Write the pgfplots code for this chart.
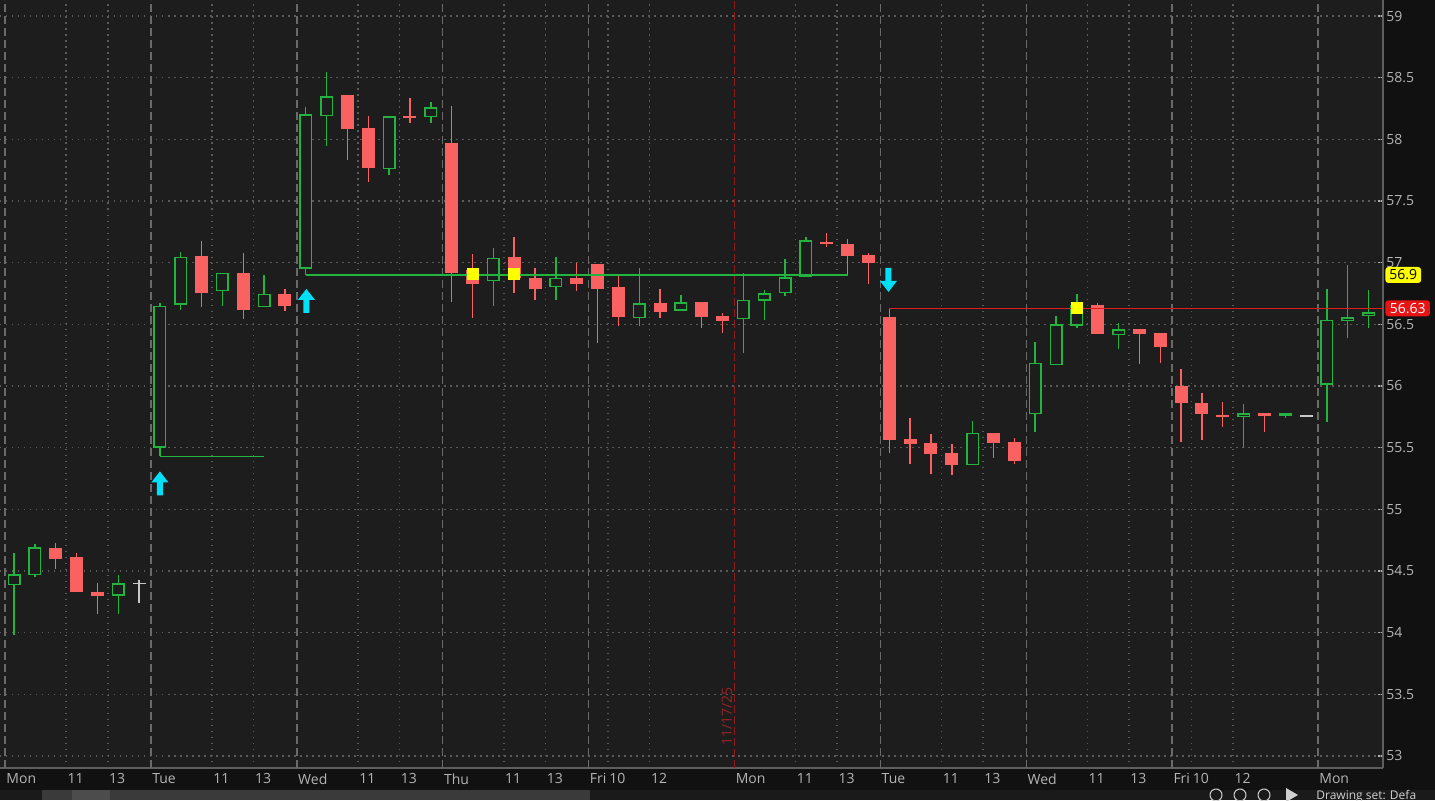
\documentclass[border=0pt]{standalone}
\usepackage{pgfplots}
\pgfplotsset{compat=1.18}
\usepackage{pgfplotstable}
\usepackage{fontspec}
\setmainfont{Open Sans}

\definecolor{bgout}{HTML}{111111}
\definecolor{bgplot}{HTML}{1D1D1D}
\definecolor{gridc}{HTML}{5A5A5A}
\definecolor{sepc}{HTML}{6A6A6A}
\definecolor{axisc}{HTML}{5E5E5E}
\definecolor{lbl}{HTML}{B4B4B4}
\definecolor{upc}{HTML}{23B43F}
\definecolor{dnc}{HTML}{FA6262}
\definecolor{flatc}{HTML}{C8C8C8}
\definecolor{lvlred}{HTML}{E01E1E}
\definecolor{tagred}{HTML}{E81414}
\definecolor{arrc}{HTML}{00E0F8}
\definecolor{yel}{HTML}{FFFF00}
\definecolor{datec}{HTML}{9A2424}
\definecolor{dateline}{HTML}{8E1C1C}
\definecolor{stripbg}{HTML}{1A1A1A}
\definecolor{stripa}{HTML}{3A3A3A}
\definecolor{stripb}{HTML}{4C4C4C}
\definecolor{toolc}{HTML}{D0D0D0}

% hourly candles, x = bar number
\pgfplotstableread{
i  o      h      l      c
0  54.385 54.645 53.98  54.475
1  54.466 54.718 54.45  54.693
5  54.30  54.47  54.15  54.40
7  55.50  56.67  55.43  56.65
8  56.66  57.09  56.62  57.05
10 56.77  56.92  56.65  56.92
12 56.64  56.90  56.64  56.75
14 56.95  58.26  56.90  58.205
15 58.19  58.55  57.95  58.35
18 57.76  58.19  57.71  58.19
20 58.18  58.30  58.13  58.26
23 56.85  57.12  56.65  57.04
26 56.80  57.05  56.70  56.88
30 56.55  56.96  56.49  56.67
32 56.61  56.74  56.61  56.68
35 56.54  56.92  56.27  56.70
36 56.69  56.78  56.54  56.75
37 56.75  57.03  56.73  56.88
38 56.88  57.21  56.88  57.18
46 55.36  55.72  55.36  55.62
49 55.77  56.36  55.63  56.19
50 56.17  56.57  56.17  56.50
51 56.49  56.75  56.47  56.66
53 56.41  56.51  56.30  56.46
59 55.75  55.85  55.50  55.78
61 55.77  55.78  55.74  55.775
63 56.01  56.79  55.71  56.54
64 56.53  56.98  56.39  56.56
65 56.57  56.78  56.47  56.60
}\up

\pgfplotstableread{
i  o      h      l      c
2  54.686 54.726 54.515 54.596
3  54.61  54.65  54.33  54.33
4  54.33  54.40  54.15  54.30
9  57.05  57.18  56.64  56.75
11 56.92  57.08  56.54  56.62
13 56.75  56.79  56.61  56.65
16 58.36  58.36  57.83  58.08
17 58.09  58.19  57.65  57.77
19 58.19  58.34  58.13  58.17
21 57.97  58.27  56.68  56.92
22 56.94  57.07  56.55  56.83
24 57.05  57.21  56.75  56.88
25 56.88  56.96  56.70  56.79
27 56.88  57.00  56.77  56.83
28 56.99  56.99  56.35  56.79
29 56.80  56.89  56.49  56.56
31 56.67  56.79  56.55  56.60
33 56.68  56.68  56.47  56.56
34 56.57  56.59  56.43  56.53
39 57.17  57.24  57.13  57.15
40 57.15  57.19  56.90  57.05
41 57.06  57.08  56.83  57.00
42 56.56  56.63  55.46  55.56
43 55.57  55.74  55.37  55.53
44 55.54  55.61  55.29  55.45
45 55.46  55.53  55.28  55.36
47 55.62  55.62  55.42  55.54
48 55.55  55.58  55.37  55.39
52 56.66  56.67  56.42  56.42
54 56.46  56.46  56.18  56.42
55 56.43  56.43  56.19  56.32
56 56.00  56.14  55.55  55.86
57 55.86  55.94  55.56  55.77
58 55.76  55.87  55.67  55.75
60 55.78  55.78  55.63  55.76
}\down

\pgfplotstableread{
i  o      h      l      c
6  54.40  54.43  54.24  54.40
62 55.756 55.756 55.756 55.756
}\flat

\pgfdeclareplotmark{uarr}{%
  \pgfpathmoveto{\pgfqpoint{0pt}{6pt}}%
  \pgfpathlineto{\pgfqpoint{4.25pt}{0.5pt}}%
  \pgfpathlineto{\pgfqpoint{1.5pt}{0.5pt}}%
  \pgfpathlineto{\pgfqpoint{1.5pt}{-6pt}}%
  \pgfpathlineto{\pgfqpoint{-1.5pt}{-6pt}}%
  \pgfpathlineto{\pgfqpoint{-1.5pt}{0.5pt}}%
  \pgfpathlineto{\pgfqpoint{-4.25pt}{0.5pt}}%
  \pgfpathclose\pgfusepathqfill}
\pgfdeclareplotmark{darr}{%
  \pgfpathmoveto{\pgfqpoint{0pt}{-6pt}}%
  \pgfpathlineto{\pgfqpoint{4.25pt}{-0.5pt}}%
  \pgfpathlineto{\pgfqpoint{1.5pt}{-0.5pt}}%
  \pgfpathlineto{\pgfqpoint{1.5pt}{6pt}}%
  \pgfpathlineto{\pgfqpoint{-1.5pt}{6pt}}%
  \pgfpathlineto{\pgfqpoint{-1.5pt}{-0.5pt}}%
  \pgfpathlineto{\pgfqpoint{-4.25pt}{-0.5pt}}%
  \pgfpathclose\pgfusepathqfill}
% a mark that draws nothing
\pgfdeclareplotmark{nada}{}

\pgfplotsset{
  wick/.style={only marks, mark=nada, forget plot,
    error bars/.cd, y dir=both, y explicit, error mark=none,
    error bar style={#1, line width=0.7pt, solid}},
  body/.style 2 args={only marks, mark=nada, forget plot,
    error bars/.cd, y dir=both, y explicit, error mark=none,
    error bar style={#1, line width=#2, solid}},
}

\begin{document}
\begin{tikzpicture}
\fill[bgout] (0,0) rectangle (717.5pt,400pt);
\path[use as bounding box] (0,0) rectangle (717.5pt,400pt);
% scroll strip at the bottom
\fill[stripbg] (0,0) rectangle (717.5pt,5pt);
\fill[stripa] (21pt,0) rectangle (295pt,5pt);
\fill[stripb] (36pt,0) rectangle (55pt,5pt);

\begin{axis}[
  at={(0pt,16pt)}, anchor=south west,
  scale only axis, width=691.5pt, height=384pt,
  xmin=-0.672, xmax=65.69, ymin=52.902, ymax=59.13,
  axis background/.style={fill=bgplot},
  axis x line*=bottom, axis y line*=right,
  every non boxed x axis/.append style={x axis line style=-},
  every non boxed y axis/.append style={y axis line style=-},
  axis line style={axisc, line width=0.8pt},
  xtick={-0.43,2.5,4.5,6.57,9.5,11.5,13.57,16.5,18.5,20.57,23.5,25.5,27.57,28.5,30.5,34.57,37.5,39.5,41.57,44.5,46.5,48.57,51.5,53.5,55.57,56.5,58.5,62.57},
  xticklabels={Mon,11,13,Tue,11,13,Wed,11,13,Thu,11,13,Fri,10,12,Mon,11,13,Tue,11,13,Wed,11,13,Fri,10,12,Mon},
  xtick style={draw=none},
  ytick={53,53.5,...,59},
  ytick style={lbl, line width=0.6pt},
  tick align=inside, major tick length=2.5pt,
  tick label style={font=\fontsize{7}{8}\selectfont, text=lbl},
  xticklabel style={anchor=north west, inner sep=0pt, xshift=0.5pt, yshift=-2.5pt},
  yticklabel style={anchor=west, inner sep=0pt, xshift=1.5pt},
  /pgf/number format/assume math mode=true,
]
% grid
\pgfplotsinvokeforeach{53,53.5,54,54.5,55,55.5,56,56.5,57,57.5,58,58.5,59}{
  \draw[gridc, line width=0.75pt, dash pattern=on 0.75pt off 2.25pt] (axis cs:-0.672,#1) -- (axis cs:65.55,#1);
}
\pgfplotsinvokeforeach{2.5,4.5,9.5,11.5,16.5,18.5,23.5,25.5,28.5,30.5,37.5,39.5,44.5,46.5,51.5,53.5,56.5,58.5}{
  \draw[gridc, line width=0.75pt, dash pattern=on 0.75pt off 2.25pt] (axis cs:#1,52.902) -- (axis cs:#1,59.13);
}
\pgfplotsinvokeforeach{-0.43,6.57,13.57,20.57,27.57,41.57,48.57,55.57,62.57}{
  \draw[sepc, line width=0.7pt, dash pattern=on 4pt off 2pt] (axis cs:#1,52.902) -- (axis cs:#1,59.13);
}
\draw[dateline, line width=0.6pt, dash pattern=on 4pt off 1.5pt] (axis cs:34.57,52.902) -- (axis cs:34.57,59.13);
\node[datec, rotate=90, font=\fontsize{7}{8}\selectfont, inner sep=0pt] at (axis cs:34.21,53.32) {11/17/25};

% wicks
\addplot[wick=upc] table[x=i, y expr={(\thisrow{h}+\thisrow{l})/2}, y error expr={(\thisrow{h}-\thisrow{l})/2}] {\up};
\addplot[wick=dnc] table[x=i, y expr={(\thisrow{h}+\thisrow{l})/2}, y error expr={(\thisrow{h}-\thisrow{l})/2}] {\down};
\addplot[wick=flatc] table[x=i, y expr={(\thisrow{h}+\thisrow{l})/2}, y error expr={(\thisrow{h}-\thisrow{l})/2}] {\flat};
% bodies
\addplot[body={dnc}{6.5pt}] table[x=i, y expr={(\thisrow{o}+\thisrow{c})/2}, y error expr={max(abs(\thisrow{o}-\thisrow{c})/2,0.008)}] {\down};
\addplot[body={flatc}{6.5pt}] table[x=i, y expr={(\thisrow{o}+\thisrow{c})/2}, y error expr={max(abs(\thisrow{o}-\thisrow{c})/2,0.007)}] {\flat};
\addplot[body={upc}{6.5pt}] table[x=i, y expr={(\thisrow{o}+\thisrow{c})/2}, y error expr={max(abs(\thisrow{o}-\thisrow{c})/2,0.012)}] {\up};
\addplot[body={bgplot}{5pt}] table[x=i, y expr={(\thisrow{o}+\thisrow{c})/2}, y error expr={max(abs(\thisrow{o}-\thisrow{c})/2-0.0122,0)}] {\up};

% levels
\addplot[upc, line width=0.7pt] coordinates {(7,55.43) (12,55.43)};
\addplot[upc, line width=0.7pt] coordinates {(14,56.9) (40,56.9)};
\addplot[lvlred, line width=0.7pt] coordinates {(42,56.63) (65.69,56.63)};

% signals
\addplot[only marks, mark=square*, mark size=2.75pt, yel] coordinates {(22,56.907) (24,56.91) (51,56.636)};
\addplot[only marks, mark=uarr, arrc] coordinates {(7,55.21) (14.03,56.69)};
\addplot[only marks, mark=darr, arrc] coordinates {(41.96,56.86)};

\coordinate (tagA) at (axis cs:65.69,56.9);
\coordinate (tagB) at (axis cs:65.69,56.63);
\end{axis}

\node[fill=yel, text=black, rounded corners=1.5pt, inner xsep=2pt, inner ysep=0pt, minimum height=8pt, anchor=west, font=\fontsize{7}{8}\selectfont] at ([xshift=1pt]tagA) {56.9};
\node[fill=tagred, text=white, rounded corners=1.5pt, inner xsep=2.2pt, inner ysep=0pt, minimum height=8pt, anchor=west, font=\fontsize{7}{8}\selectfont] at ([xshift=1pt]tagB) {56.63};

% toolbar bits
\draw[toolc, line width=0.5pt] (608pt,2.5pt) circle (3pt);
\draw[toolc, line width=0.5pt] (620pt,2.5pt) circle (3pt);
\draw[toolc, line width=0.5pt] (632pt,2.5pt) circle (3pt);
\fill[toolc] (643pt,-1pt) -- (643pt,6pt) -- (649pt,2.5pt) -- cycle;
\node[anchor=base west, inner sep=0pt, text=toolc, font=\fontsize{6}{7}\selectfont] at (658pt,0.5pt) {Drawing set: Defa};
\end{tikzpicture}
\end{document}
